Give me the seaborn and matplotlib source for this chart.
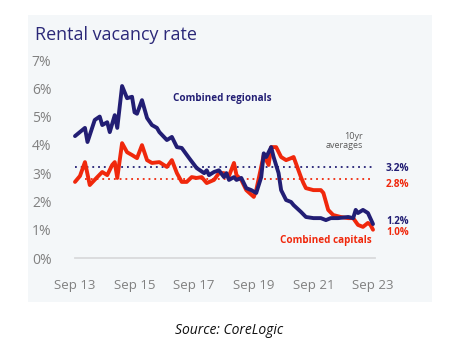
import matplotlib
matplotlib.use("Agg")
import matplotlib.pyplot as plt
import matplotlib.dates as mdates
from matplotlib.patches import Rectangle
import pandas as pd
import seaborn as sns

# Monthly readings of the rental vacancy rate (%)
regional_dates = [
    "2013-09", "2014-01", "2014-02", "2014-05", "2014-07", "2014-08", "2014-10",
    "2014-11", "2015-01", "2015-02", "2015-04", "2015-06", "2015-08", "2015-09",
    "2015-10", "2015-12", "2016-02", "2016-04", "2016-06", "2016-07", "2016-10",
    "2016-12", "2017-02", "2017-04", "2017-07", "2017-10", "2018-01", "2018-02",
    "2018-03", "2018-05", "2018-07", "2018-09", "2018-10", "2018-11", "2019-01",
    "2019-02", "2019-04", "2019-06", "2019-08", "2019-10", "2019-12", "2020-01",
    "2020-02", "2020-04", "2020-05", "2020-07", "2020-08", "2020-10", "2020-12",
    "2021-01", "2021-04", "2021-06", "2021-09", "2021-12", "2022-02", "2022-04",
    "2022-07", "2022-11", "2023-01", "2023-02", "2023-03", "2023-05", "2023-07",
    "2023-09",
]
regional_rate = [
    4.31, 4.60, 4.10, 4.88, 5.00, 4.70, 4.80,
    4.45, 5.05, 4.60, 6.08, 5.65, 5.70, 5.15,
    5.10, 5.58, 4.95, 4.70, 4.60, 4.45, 4.17,
    4.28, 3.92, 3.89, 3.53, 3.18, 3.00, 3.10,
    2.93, 3.04, 3.10, 2.86, 3.00, 2.76, 2.86,
    2.76, 2.83, 2.47, 2.40, 2.30, 2.86, 3.70,
    3.57, 3.92, 3.57, 3.00, 2.40, 2.05, 1.98,
    1.87, 1.63, 1.45, 1.41, 1.41, 1.34, 1.41,
    1.41, 1.45, 1.41, 1.70, 1.59, 1.70, 1.59,
    1.20,
]

capital_dates = [
    "2013-09", "2013-11", "2014-01", "2014-03", "2014-06", "2014-08", "2014-10",
    "2014-12", "2015-01", "2015-02", "2015-04", "2015-06", "2015-08", "2015-10",
    "2015-12", "2016-02", "2016-04", "2016-07", "2016-10", "2016-12", "2017-02",
    "2017-04", "2017-06", "2017-08", "2017-10", "2017-12", "2018-02", "2018-05",
    "2018-07", "2018-09", "2018-11", "2019-01", "2019-02", "2019-04", "2019-06",
    "2019-09", "2019-10", "2019-12", "2020-01", "2020-03", "2020-04", "2020-06",
    "2020-08", "2020-10", "2020-12", "2021-01", "2021-04", "2021-05", "2021-06",
    "2021-09", "2021-12", "2022-01", "2022-03", "2022-05", "2022-08", "2022-11",
    "2023-01", "2023-03", "2023-05", "2023-07", "2023-08", "2023-09",
]
capital_rate = [
    2.69, 2.90, 3.39, 2.58, 2.86, 3.04, 2.93,
    3.29, 3.39, 2.83, 4.06, 3.74, 3.64, 3.53,
    3.99, 3.46, 3.36, 3.39, 3.22, 3.46, 3.00,
    2.69, 2.69, 2.86, 2.83, 2.86, 2.65, 2.76,
    3.00, 3.00, 2.90, 3.36, 2.93, 2.76, 2.40,
    2.16, 2.40, 3.22, 3.64, 3.29, 3.92, 3.92,
    3.57, 3.46, 3.53, 3.57, 2.86, 2.65, 2.47,
    2.40, 2.40, 2.30, 1.70, 1.52, 1.45, 1.41,
    1.41, 1.17, 1.10, 1.24, 1.17, 1.00,
]

# Ten-year averages
avg_regional = 3.2
avg_capital = 2.8
avg_regional_start = "2013-09"
avg_capital_start = "2014-01"
period_start = "2013-09"
period_end = "2023-09"

y_ticks = [0, 1, 2, 3, 4, 5, 6, 7]
x_tick_dates = ["2013-09", "2015-09", "2017-09", "2019-09", "2021-09", "2023-09"]
x_tick_labels = ["Sep 13", "Sep 15", "Sep 17", "Sep 19", "Sep 21", "Sep 23"]

NAVY = "#221e74"
RED = "#f0280c"
PANEL = "#f4f7f9"
GREY = "#808080"

regionals = pd.DataFrame({"date": pd.to_datetime(regional_dates), "rate": regional_rate})
capitals = pd.DataFrame({"date": pd.to_datetime(capital_dates), "rate": capital_rate})

sns.set_theme(style="white")
plt.rcParams["font.family"] = ["Open Sans", "DejaVu Sans"]

W, H = 459, 349
fig = plt.figure(figsize=(W / 100, H / 100), dpi=100)
fig.patch.set_facecolor("white")

# light card behind the chart
fig.patches.append(Rectangle((28 / W, 1 - 302 / H), (432 - 28) / W, (302 - 15) / H,
                             transform=fig.transFigure, facecolor=PANEL,
                             edgecolor="none", zorder=-5))

ax = fig.add_axes([75 / W, 1 - 258 / H, 298 / W, 198 / H])
ax.set_facecolor("none")

# dotted ten-year average lines
ax.plot(pd.to_datetime([avg_regional_start, period_end]), [avg_regional] * 2,
        color=NAVY, lw=1.3, ls=(0, (1, 2.2)), zorder=2)
ax.plot(pd.to_datetime([avg_capital_start, period_end]), [avg_capital] * 2,
        color=RED, lw=1.3, ls=(0, (1, 2.2)), zorder=2)

sns.lineplot(data=capitals, x="date", y="rate", ax=ax, color=RED, lw=2.8,
             zorder=3, clip_on=False)
sns.lineplot(data=regionals, x="date", y="rate", ax=ax, color=NAVY, lw=2.8,
             zorder=4, clip_on=False)

x0 = mdates.date2num(pd.to_datetime(period_start))
x1 = mdates.date2num(pd.to_datetime(period_end))
ax.set_ylim(0, 7)
ax.set_xlim(x0, x1)
ax.set_yticks(y_ticks)
ax.set_yticklabels([f"{t}%" for t in y_ticks])
ax.set_xticks(mdates.date2num(pd.to_datetime(x_tick_dates)))
ax.set_xticklabels(x_tick_labels)
ax.tick_params(axis="y", length=0, pad=17, labelsize=10, labelcolor=GREY)
ax.tick_params(axis="x", length=0, pad=15, labelsize=9.5, labelcolor=GREY)
ax.set_xlabel("")
ax.set_ylabel("")
for side in ("top", "right", "left"):
    ax.spines[side].set_visible(False)
ax.spines["bottom"].set_color("#d9dadc")
ax.spines["bottom"].set_linewidth(1.3)
ax.spines["bottom"].set_bounds(x0, x1 + 30)

fig.text(35 / W, 1 - 35 / H, "Rental vacancy rate", fontsize=12.9, color="#2b2878",
         ha="left", va="center")

# series labels
ax.text((173 - 75) / 298, (258 - 99) / 198, "Combined regionals",
        transform=ax.transAxes, fontsize=7.1, fontweight="bold", color=NAVY,
        ha="left", va="center")
ax.text((280 - 75) / 298, (258 - 240) / 198, "Combined capitals",
        transform=ax.transAxes, fontsize=7.1, fontweight="bold", color=RED,
        ha="left", va="center")
ax.text((363 - 75) / 298, (258 - 141) / 198, "10yr\naverages",
        transform=ax.transAxes, fontsize=6.5, color="#5a5a5a",
        ha="right", va="center", linespacing=1.0)

# value labels at the right edge
yax = ax.get_yaxis_transform()
lx = (386 - 75) / 298
ax.text(lx, 3.15, f"{avg_regional:.1f}%", transform=yax, fontsize=7.3,
        fontweight="bold", color=NAVY, ha="left", va="center")
ax.text(lx, 2.6, f"{avg_capital:.1f}%", transform=yax, fontsize=7.3,
        fontweight="bold", color=RED, ha="left", va="center")
ax.text(lx, 1.28, f"{regional_rate[-1]:.1f}%", transform=yax, fontsize=7.0,
        fontweight="bold", color=NAVY, ha="left", va="center")
ax.text(lx, 0.9, f"{capital_rate[-1]:.1f}%", transform=yax, fontsize=7.0,
        fontweight="bold", color=RED, ha="left", va="center")

fig.text(0.5, 1 - 330 / H, "Source: CoreLogic", fontsize=10, style="italic",
         color="#111111", ha="center", va="center")

fig.savefig("out.png", dpi=100, facecolor="white")
